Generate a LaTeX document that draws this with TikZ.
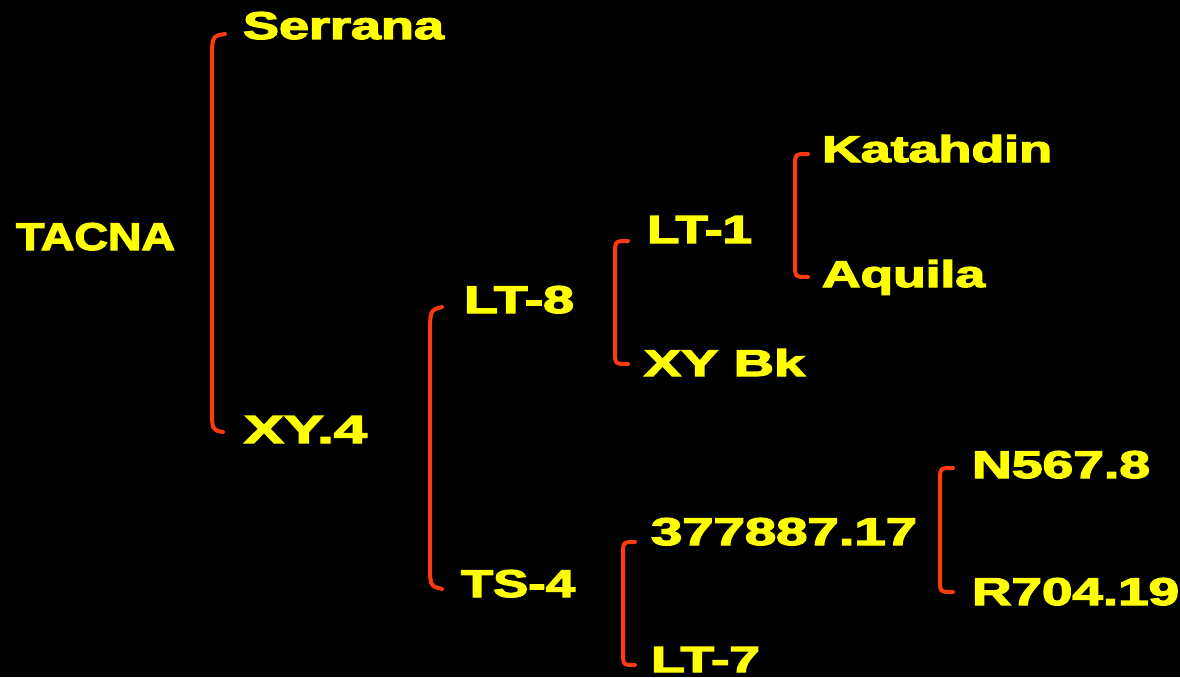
\documentclass[tikz,border=0pt]{standalone}
\usepackage{fontspec}
\usepackage{graphicx}
\newfontfamily\lblfont{Liberation Sans}[BoldFeatures={FakeBold=3}]
\definecolor{lblyellow}{HTML}{FFFF00}
\definecolor{brred}{HTML}{FF3A10}
\newcommand\lbl[3][27pt]{\resizebox{#2}{#1}{\lblfont\bfseries #3}}
\tikzset{
  lab/.style={inner sep=0pt, outer sep=0pt, anchor=base west, text=lblyellow},
  brk/.style={draw=brred, line width=4pt, line cap=round}
}
\begin{document}
\begin{tikzpicture}[x=1pt,y=-1pt]
\fill[black] (0,0) rectangle (1180,677);
\useasboundingbox (0,0) rectangle (1180,677);
% labels
\node[lab] (tacna)  at (16,250)  {\lbl{159pt}{TACNA}};
\node[lab] (serr)   at (243,39)  {\lbl{201pt}{Serrana}};
\node[lab] (xy4)    at (244,443) {\lbl{123pt}{XY.4}};
\node[lab] (lt8)    at (464,313) {\lbl{110pt}{LT-8}};
\node[lab] (ts4)    at (461,597) {\lbl{114pt}{TS-4}};
\node[lab] (lt1)    at (647,243) {\lbl{105pt}{LT-1}};
\node[lab] (xybk)   at (644,376) {\lbl{161pt}{XY Bk}};
\node[lab] (kat)    at (822,162) {\lbl{230pt}{Katahdin}};
\node[lab] (aqu)    at (822,287) {\lbl{163pt}{Aquila}};
\node[lab] (n377)   at (651,545) {\lbl{266pt}{377887.17}};
\node[lab] (lt7)    at (651,672) {\lbl[25pt]{109pt}{LT-7}};
\node[lab] (n567)   at (972,478) {\lbl{178pt}{N567.8}};
\node[lab] (r704)   at (972,605) {\lbl{207pt}{R704.19}};
% brackets
\draw[brk] (225,34) .. controls (212,36) .. (212,62) -- (212,408) .. controls (212,430) .. (223,432);
\draw[brk] (442,307) .. controls (430,310) .. (430,338) -- (430,562) .. controls (430,586) .. (442,589);
\draw[brk] (628,241) .. controls (615,241) .. (615,255) -- (615,351) .. controls (615,364) .. (628,364);
\draw[brk] (808,154) .. controls (795,154) .. (795,167) -- (795,264) .. controls (795,277) .. (808,277);
\draw[brk] (953,468) .. controls (940,468) .. (940,481) -- (940,579) .. controls (940,592) .. (953,592);
\draw[brk] (635,542) .. controls (623,542) .. (623,555) -- (623,652) .. controls (623,665) .. (635,665);
\end{tikzpicture}
\end{document}
